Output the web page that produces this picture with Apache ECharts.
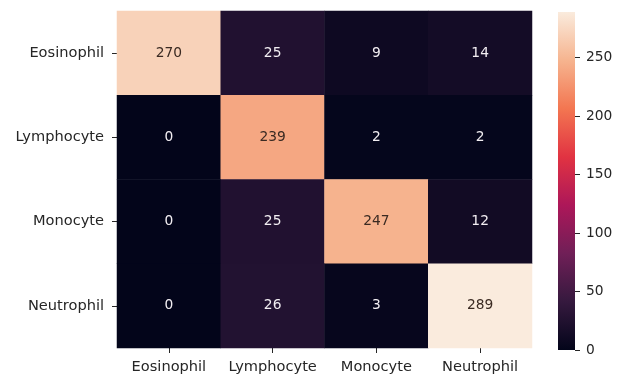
<!DOCTYPE html>
<html>
<head>
<meta charset="utf-8">
<script src="https://cdn.jsdelivr.net/npm/echarts@6/dist/echarts.min.js"></script>
<style>
  html, body { margin: 0; padding: 0; background: #ffffff; }
  #chart { width: 625px; height: 378px; }
</style>
</head>
<body>
<div id="chart"></div>
<script>
// Class names for true (rows) and predicted (columns) labels
const classes = ['Eosinophil', 'Lymphocyte', 'Monocyte', 'Neutrophil'];

// Confusion matrix counts, one array per true class
const eosinophilRow = [270, 25, 9, 14];
const lymphocyteRow = [0, 239, 2, 2];
const monocyteRow   = [0, 25, 247, 12];
const neutrophilRow = [0, 26, 3, 289];
const matrixRows = [eosinophilRow, lymphocyteRow, monocyteRow, neutrophilRow];

// Colour bar scale
const colorbarTicks = [0, 50, 100, 150, 200, 250];

// "rocket" colormap, evenly spaced stops from low to high
const rocket = ['#03051a', '#35193e', '#701f57', '#ad1759', '#e13342', '#f37651', '#f6b48f', '#faebdd'];

const allValues = matrixRows.flat();
const vMin = 0;
const vMax = Math.max(...allValues);

const cells = [];
matrixRows.forEach((row, r) => {
  row.forEach((v, c) => {
    const light = (v - vMin) / (vMax - vMin) > 0.55;
    cells.push({
      value: [c, r, v],
      label: { color: light ? '#3a2a22' : '#f2eef2' }
    });
  });
});

const textColor = '#262626';
const fontFamily = 'DejaVu Sans';
const fsAxis = 14.6;
const fsNum = 13.8;

const chart = echarts.init(document.getElementById('chart'), null, { renderer: 'canvas' });
chart.setOption({
  backgroundColor: '#ffffff',
  animation: false,
  textStyle: { fontFamily: fontFamily },
  grid: [
    { left: 117, top: 11, width: 415, height: 337 },
    { left: 558, top: 12, width: 17, height: 338 }
  ],
  xAxis: [
    {
      type: 'category', gridIndex: 0, data: classes,
      axisLine: { show: false },
      axisTick: { show: true, alignWithLabel: true, length: 5, lineStyle: { color: textColor, width: 1 } },
      axisLabel: { color: textColor, fontSize: fsAxis, margin: 12, interval: 0, fontFamily: fontFamily },
      splitLine: { show: false }
    },
    {
      type: 'category', gridIndex: 1, data: ['cb'],
      show: false
    }
  ],
  yAxis: [
    {
      type: 'category', gridIndex: 0, data: classes, inverse: true,
      axisLine: { show: false },
      axisTick: { show: true, alignWithLabel: true, length: 5, lineStyle: { color: textColor, width: 1 } },
      axisLabel: { color: textColor, fontSize: fsAxis, margin: 13, interval: 0, fontFamily: fontFamily },
      splitLine: { show: false }
    },
    {
      type: 'value', gridIndex: 1, position: 'right',
      min: vMin, max: vMax, interval: 50,
      axisLine: { show: false },
      axisTick: { show: true, length: 5, lineStyle: { color: textColor, width: 1 } },
      axisLabel: {
        color: textColor, fontSize: fsNum, margin: 11, fontFamily: fontFamily,
        showMaxLabel: false,
        formatter: v => colorbarTicks.includes(v) ? String(v) : ''
      },
      splitLine: { show: false }
    }
  ],
  visualMap: {
    show: false, type: 'continuous', seriesIndex: 0,
    min: vMin, max: vMax, dimension: 2,
    inRange: { color: rocket }
  },
  series: [
    {
      type: 'heatmap', xAxisIndex: 0, yAxisIndex: 0,
      data: cells,
      label: { show: true, fontSize: fsNum, fontFamily: fontFamily },
      itemStyle: { borderWidth: 0 },
      emphasis: { disabled: true }
    },
    {
      type: 'bar', xAxisIndex: 1, yAxisIndex: 1,
      data: [vMax], barWidth: '100%',
      itemStyle: {
        color: new echarts.graphic.LinearGradient(0, 1, 0, 0,
          rocket.map((c, i) => ({ offset: i / (rocket.length - 1), color: c })))
      },
      silent: true
    }
  ]
});
</script>
</body>
</html>
